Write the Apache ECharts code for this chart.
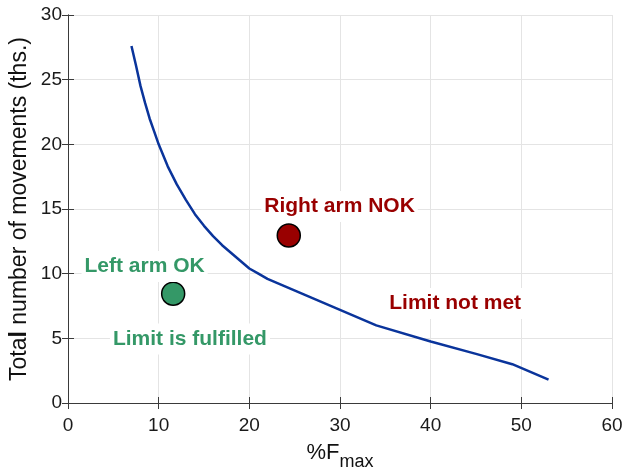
<!DOCTYPE html>
<html>
<head>
<meta charset="utf-8">
<script src="https://cdn.jsdelivr.net/npm/echarts@6/dist/echarts.min.js"></script>
<style>
  html, body { margin: 0; padding: 0; background: #fff; }
  #chart { width: 625px; height: 470px; }
</style>
</head>
<body>
<div id="chart"></div>
<script>
// limit curve
const forceX = [7, 7.5, 8, 8.5, 9, 9.5, 10, 11, 12, 13, 14, 15, 16, 17, 18, 19, 20, 21, 22, 26, 30, 34, 40, 45, 49, 53];
const movesY = [27.6, 26.1, 24.5, 23.2, 22.0, 21.0, 20.0, 18.3, 16.9, 15.7, 14.6, 13.7, 12.9, 12.2, 11.6, 11.0, 10.4, 10.0, 9.6, 8.4, 7.2, 6.0, 4.75, 3.8, 3.0, 1.8];

const leftArm = [11.6, 8.45];
const rightArm = [24.35, 12.95];

// text anchors: [x, y, text, colour key]
const notes = [
  [29.95, 15.2, 'Right arm NOK', 'red'],
  [8.45, 10.55, 'Left arm OK', 'green'],
  [13.45, 4.95, 'Limit is fulfilled', 'green'],
  [42.7, 7.7, 'Limit not met', 'red']
];

const xTicks = [0, 10, 20, 30, 40, 50, 60];
const yTicks = [0, 5, 10, 15, 20, 25, 30];

const RED = '#990000';
const GREEN = '#349867';
const BLUE = '#0a349b';
const AXIS = '#3a3a3a';
const FONT = "Arial, 'Liberation Sans', sans-serif";

const chart = echarts.init(document.getElementById('chart'));

const curve = forceX.map(function (x, i) {
  return [x, movesY[i]];
});

const boxAxis = function (pos) {
  return {
    type: 'value',
    position: pos,
    min: 0,
    max: pos === 'top' ? xTicks[xTicks.length - 1] : yTicks[yTicks.length - 1],
    interval: pos === 'top' ? 10 : 5,
    axisLine: { show: true, lineStyle: { color: AXIS, width: 1 } },
    axisTick: { show: true, inside: true, length: 6, lineStyle: { color: AXIS } },
    axisLabel: { show: false },
    splitLine: { show: false }
  };
};

const option = {
  animation: false,
  backgroundColor: '#fff',
  textStyle: { fontFamily: FONT },
  grid: { left: 68, right: 13, top: 15, bottom: 67, outerBoundsMode: 'none', containLabel: false },
  xAxis: [
    {
      type: 'value',
      position: 'bottom',
      min: xTicks[0],
      max: xTicks[xTicks.length - 1],
      interval: 10,
      name: '{a|%F}{b|max}',
      nameLocation: 'middle',
      nameGap: 39,
      nameMoveOverlap: false,
      nameTextStyle: {
        rich: {
          a: { fontSize: 22, lineHeight: 22, color: '#111', fontFamily: FONT },
          b: { fontSize: 18, lineHeight: 18, color: '#111', fontFamily: FONT, padding: [19, 0, 0, 0] }
        }
      },
      axisLine: { show: true, onZero: false, lineStyle: { color: AXIS, width: 1 } },
      axisTick: { show: true, inside: true, length: 6, lineStyle: { color: AXIS } },
      axisLabel: { fontSize: 19, color: '#1a1a1a', margin: 13, fontFamily: FONT },
      splitLine: { show: true, lineStyle: { color: '#e4e4e4', width: 1 } }
    },
    boxAxis('top')
  ],
  yAxis: [
    {
      type: 'value',
      position: 'left',
      min: yTicks[0],
      max: yTicks[yTicks.length - 1],
      interval: 5,
      name: 'Tota{l|l} number of movements (ths.)',
      nameLocation: 'middle',
      nameGap: 37,
      nameMoveOverlap: false,
      nameTextStyle: {
        fontSize: 23,
        color: '#111',
        fontFamily: FONT,
        rich: {
          l: { fontSize: 23, fontWeight: 'bold', color: '#111', fontFamily: FONT }
        }
      },
      axisLine: { show: true, onZero: false, lineStyle: { color: AXIS, width: 1 } },
      axisTick: { show: true, inside: true, length: 6, lineStyle: { color: AXIS } },
      axisLabel: { fontSize: 19, color: '#1a1a1a', margin: 6, fontFamily: FONT },
      splitLine: { show: true, lineStyle: { color: '#e4e4e4', width: 1 } }
    },
    boxAxis('right')
  ],
  series: [
    {
      name: 'Limit',
      type: 'line',
      data: curve,
      showSymbol: false,
      smooth: false,
      lineStyle: { color: BLUE, width: 2.5 },
      z: 3
    },
    {
      name: 'Left arm',
      type: 'scatter',
      data: [leftArm],
      symbolSize: 23,
      itemStyle: { color: GREEN, borderColor: '#000', borderWidth: 1.5, opacity: 1 },
      z: 4
    },
    {
      name: 'Right arm',
      type: 'scatter',
      data: [rightArm],
      symbolSize: 23,
      itemStyle: { color: RED, borderColor: '#000', borderWidth: 1.5, opacity: 1 },
      z: 4
    },
    {
      name: 'Notes',
      type: 'scatter',
      symbolSize: 0,
      z: 5,
      itemStyle: { opacity: 1 },
      data: notes.map(function (n) {
        return {
          value: [n[0], n[1]],
          label: {
            show: true,
            position: 'inside',
            formatter: n[2],
            color: n[3] === 'red' ? RED : GREEN,
            opacity: 1,
            fontSize: 21,
            fontWeight: 'bold',
            fontFamily: FONT,
            backgroundColor: '#fff',
            padding: [5, 3]
          }
        };
      })
    }
  ]
};

chart.setOption(option);
</script>
</body>
</html>
